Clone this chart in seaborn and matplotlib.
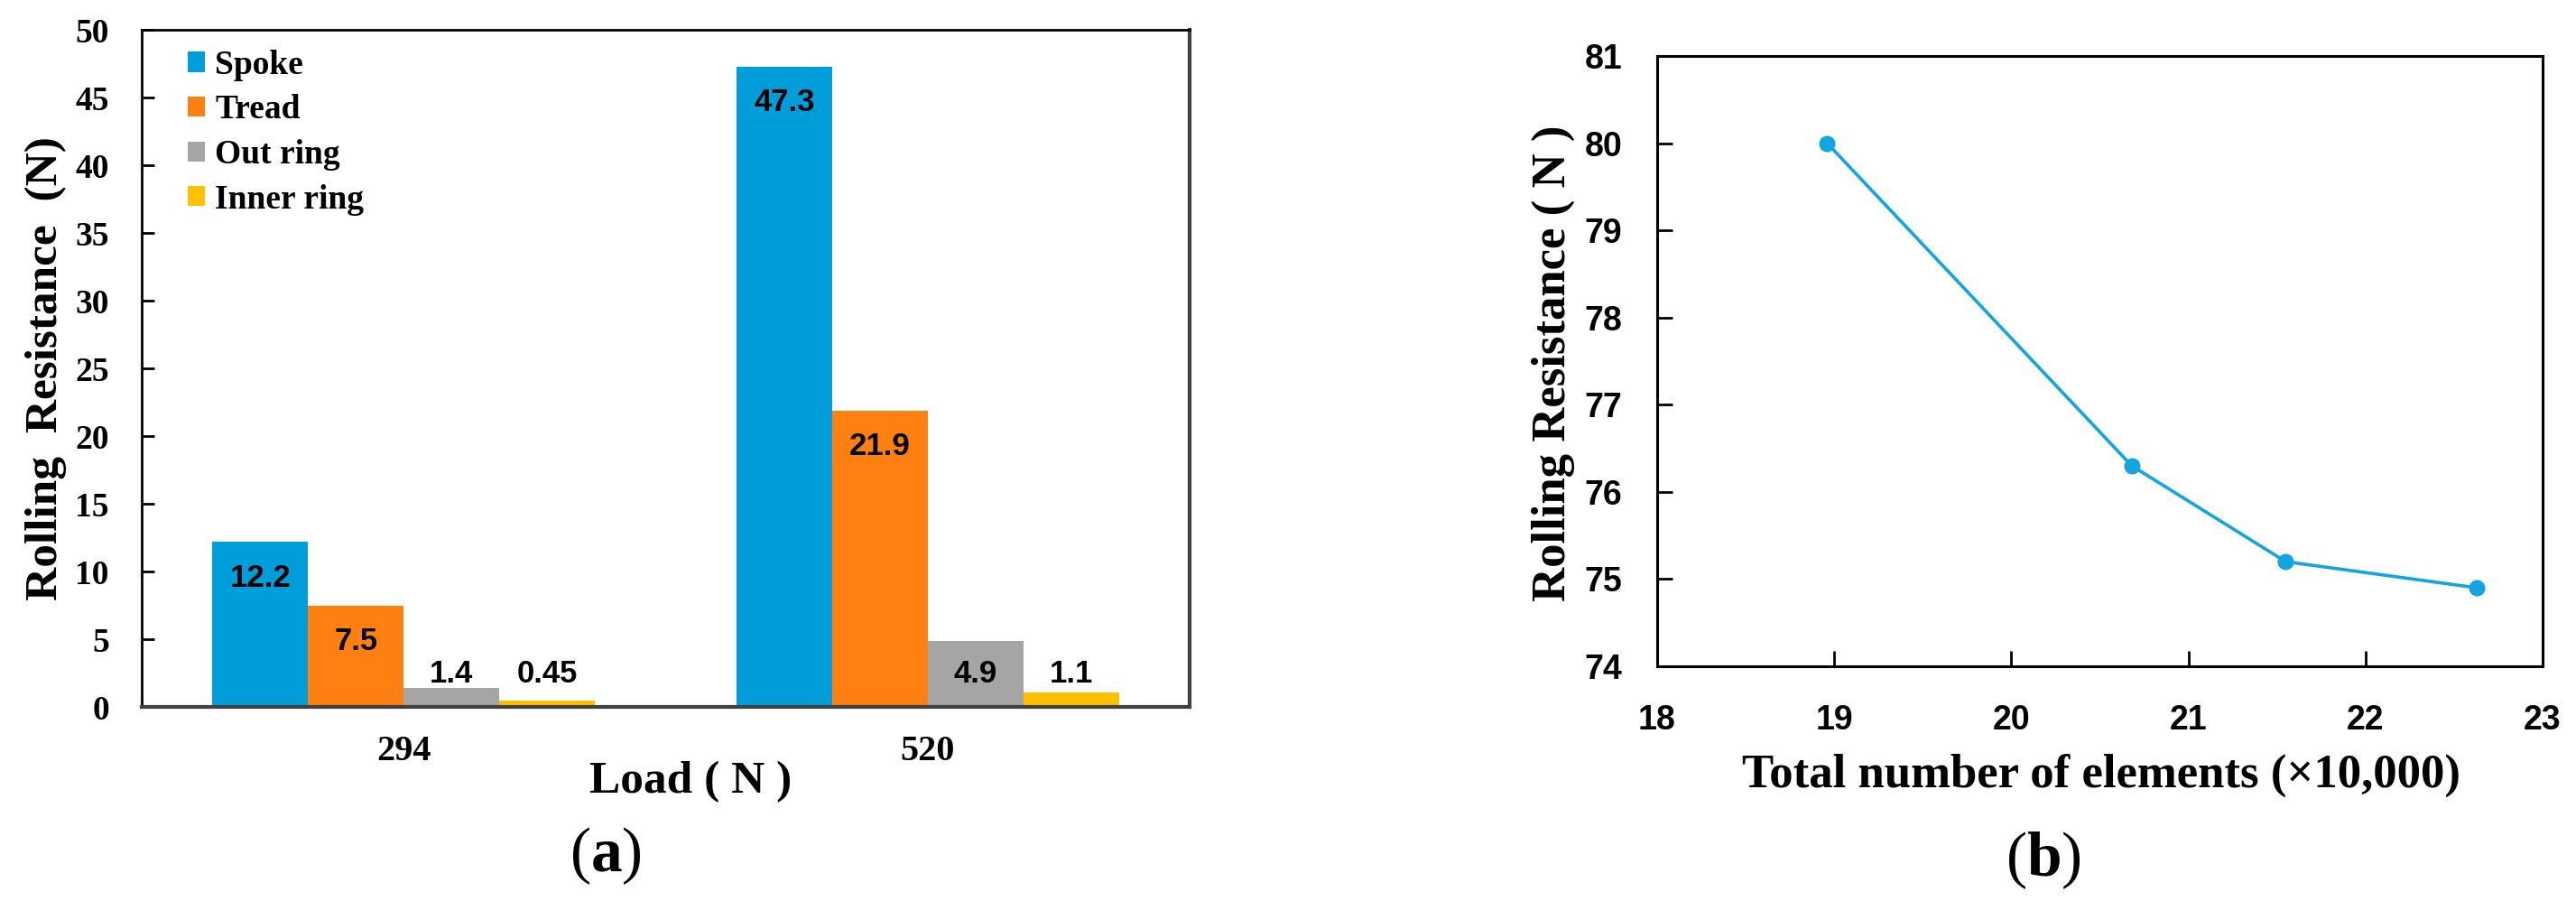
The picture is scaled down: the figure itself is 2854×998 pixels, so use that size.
import pandas as pd
import matplotlib
matplotlib.use("Agg")
import matplotlib.pyplot as plt
import seaborn as sns

# data
loads = ["294", "520"]
parts = ["Spoke", "Tread", "Out ring", "Inner ring"]
spoke = [12.2, 47.3]
tread = [7.5, 21.9]
out_ring = [1.4, 4.9]
inner_ring = [0.45, 1.1]
part_colors = ["#009ddb", "#ff7f11", "#a5a5a5", "#ffc000"]

elements = [18.96, 20.68, 21.55, 22.63]
resistance = [80.0, 76.3, 75.2, 74.9]

sns.set_theme(style="white")
plt.rcParams["font.family"] = ["Liberation Serif", "DejaVu Serif"]
plt.rcParams["mathtext.fontset"] = "custom"
plt.rcParams["mathtext.rm"] = "Liberation Serif"
plt.rcParams["mathtext.bf"] = "Liberation Serif:bold"
for key in ["text.color", "axes.labelcolor", "xtick.color", "ytick.color"]:
    plt.rcParams[key] = "black"

df = pd.DataFrame({
    "load": loads * 4,
    "part": [p for p in parts for _ in loads],
    "value": spoke + tread + out_ring + inner_ring,
})

fig = plt.figure(figsize=(28.54, 9.98), dpi=100)
ax1 = fig.add_axes([0.0550, 0.2154, 0.4068, 0.7515])
ax2 = fig.add_axes([0.6433, 0.2605, 0.3437, 0.6774])

# ---- (a) bar chart
sns.barplot(data=df, x="load", y="value", hue="part", order=loads, hue_order=parts,
            palette=part_colors, saturation=1, width=0.73, errorbar=None,
            linewidth=0, ax=ax1)
ax1.set_ylim(0, 50)
ax1.set_yticks(range(0, 51, 5))
ax1.tick_params(axis="y", direction="in", length=10, width=2, pad=26, labelsize=27,
                left=True)
ax1.tick_params(axis="x", length=0, pad=22, labelsize=29)
for lab in ax1.get_xticklabels() + ax1.get_yticklabels():
    lab.set_fontweight("bold")

for c, vals in zip(ax1.containers, [spoke, tread, out_ring, inner_ring]):
    for bar, v in zip(c, vals):
        xc = bar.get_x() + bar.get_width() / 2
        if v > 5:
            # inside the top of the bar
            ax1.annotate(str(v), xy=(xc, v), xytext=(0, -29), textcoords="offset points",
                         ha="center", va="center", fontsize=25, fontweight="bold",
                         family="Liberation Sans", color="black")
        else:
            # near the base
            ax1.annotate(str(v), xy=(xc, 0), xytext=(0, 26.6), textcoords="offset points",
                         ha="center", va="center", fontsize=25, fontweight="bold",
                         family="Liberation Sans", color="black")

ax1.set_xlabel("Load ( N )", fontsize=37, fontweight="bold")
ax1.set_ylabel("Rolling  Resistance  (N)", fontsize=37, fontweight="bold")
ax1.xaxis.set_label_coords(0.524, -0.08)
ax1.xaxis.label.set_va("top")
ax1.yaxis.set_label_coords(-0.0715, 0.5)

for side in ["top", "left"]:
    ax1.spines[side].set_color("black")
    ax1.spines[side].set_linewidth(2.0)
for side in ["bottom", "right"]:
    ax1.spines[side].set_color("#404040")
    ax1.spines[side].set_linewidth(3.0)

handles, labels = ax1.get_legend_handles_labels()
ax1.legend(handles, labels, loc="upper left", bbox_to_anchor=(0.044, 0.971),
           borderaxespad=0, borderpad=0, frameon=False, handlelength=0.5,
           handleheight=0.53, handletextpad=0.3, labelspacing=0.39,
           prop={"family": "Liberation Serif", "weight": "bold", "size": 27})

# ---- (b) line chart
sns.lineplot(x=elements, y=resistance, marker="o", color="#12a5e0", linewidth=2.6,
             markersize=13, markeredgewidth=0, ax=ax2)
ax2.set_xlim(18, 23)
ax2.set_ylim(74, 81)
ax2.set_xticks(range(18, 24))
ax2.set_yticks(range(74, 82))
ax2.tick_params(axis="x", direction="in", length=12, width=2, pad=30, labelsize=27,
                bottom=True)
ax2.tick_params(axis="y", direction="in", length=12, width=2, pad=28, labelsize=27,
                left=True)
for lab in ax2.get_xticklabels() + ax2.get_yticklabels():
    lab.set_fontweight("bold")
    lab.set_family("Liberation Sans")
for side in ax2.spines:
    ax2.spines[side].set_color("black")
    ax2.spines[side].set_linewidth(2.2)

ax2.set_xlabel("Total number of elements (\u00d710,000)", fontsize=38, fontweight="bold")
ax2.set_ylabel("Rolling Resistance ( N )", fontsize=38, fontweight="bold")
ax2.xaxis.set_label_coords(0.5015, -0.1435)
ax2.xaxis.label.set_va("top")
ax2.yaxis.set_label_coords(-0.0928, 0.497)

fig.text(0.2351, 0.050, r"($\mathbf{a}$)", ha="center", va="center", fontsize=50)
fig.text(0.7933, 0.045, r"($\mathbf{b}$)", ha="center", va="center", fontsize=50)

fig.savefig("out.png", dpi=100, facecolor="white")
